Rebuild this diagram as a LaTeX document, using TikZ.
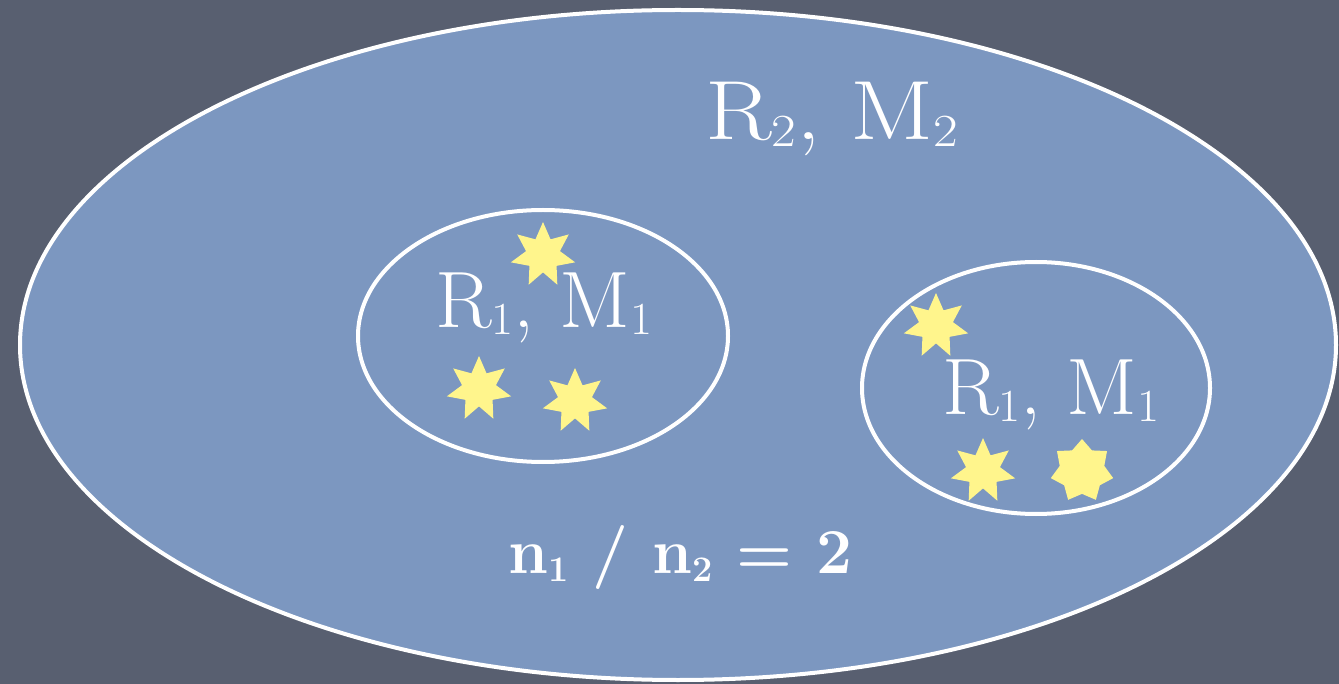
\documentclass[tikz,border=0pt]{standalone}
\usetikzlibrary{shapes.geometric}
\definecolor{bgc}{RGB}{88,95,112}
\definecolor{blobc}{RGB}{124,151,192}
\definecolor{stary}{RGB}{255,245,140}
\newcommand{\sbs}[1]{\raisebox{-7pt}{\fontsize{46}{46}\selectfont #1}}
\newcommand{\sbb}[1]{\raisebox{-8pt}{\fontsize{36}{36}\selectfont #1}}
\tikzset{
  ring/.style={draw=white, line width=4pt},
  lbl/.style={text=white, inner sep=0pt, anchor=base west, font=\fontsize{80}{80}\selectfont, xscale=1.04},
  thinstar/.style={star, star points=7, star point ratio=1.9, fill=stary, draw=none, minimum size=66pt, inner sep=0pt},
  fatstar/.style={star, star points=7, star point ratio=1.4, fill=stary, draw=none, minimum size=64pt, inner sep=0pt},
}
\begin{document}
\begin{tikzpicture}[x=1pt,y=-1pt]
\fill[bgc] (0,0) rectangle (1339,684);
\useasboundingbox (0,0) rectangle (1339,684);
\node[ellipse, ring, fill=blobc, minimum width=1316pt, minimum height=670pt, inner sep=0pt] (outer) at (678,345) {};
\node[ellipse, ring, minimum width=370pt, minimum height=252pt, inner sep=0pt] (inA) at (543,336) {};
\node[ellipse, ring, minimum width=348pt, minimum height=252pt, inner sep=0pt] (inB) at (1036,388) {};
\node[lbl, xscale=1.12] (t2) at (705,140) {\fontsize{84}{84}\selectfont R\sbs{2},\hspace{0.3em}M\sbs{2}};
\node[thinstar] (a1) at (543,255) {};
\node[thinstar] (a2) at (479,389) {};
\node[thinstar] (a3) at (575,401) {};
\node[lbl] (tA) at (435,328) {R\sbs{1}, M\sbs{1}};
\node[thinstar] (b1) at (936,326) {};
\node[thinstar] (b2) at (983,471) {};
\node[fatstar] (b3) at (1082,471) {};
\node[lbl] (tB) at (942,415) {R\sbs{1}, M\sbs{1}};
\node[text=white, inner sep=0pt, anchor=base west, font=\fontsize{64}{64}\selectfont\bfseries, xscale=1.0] (nn) at (508,573) {n\sbb{1} / n\sbb{2} = 2};
\end{tikzpicture}
\end{document}
